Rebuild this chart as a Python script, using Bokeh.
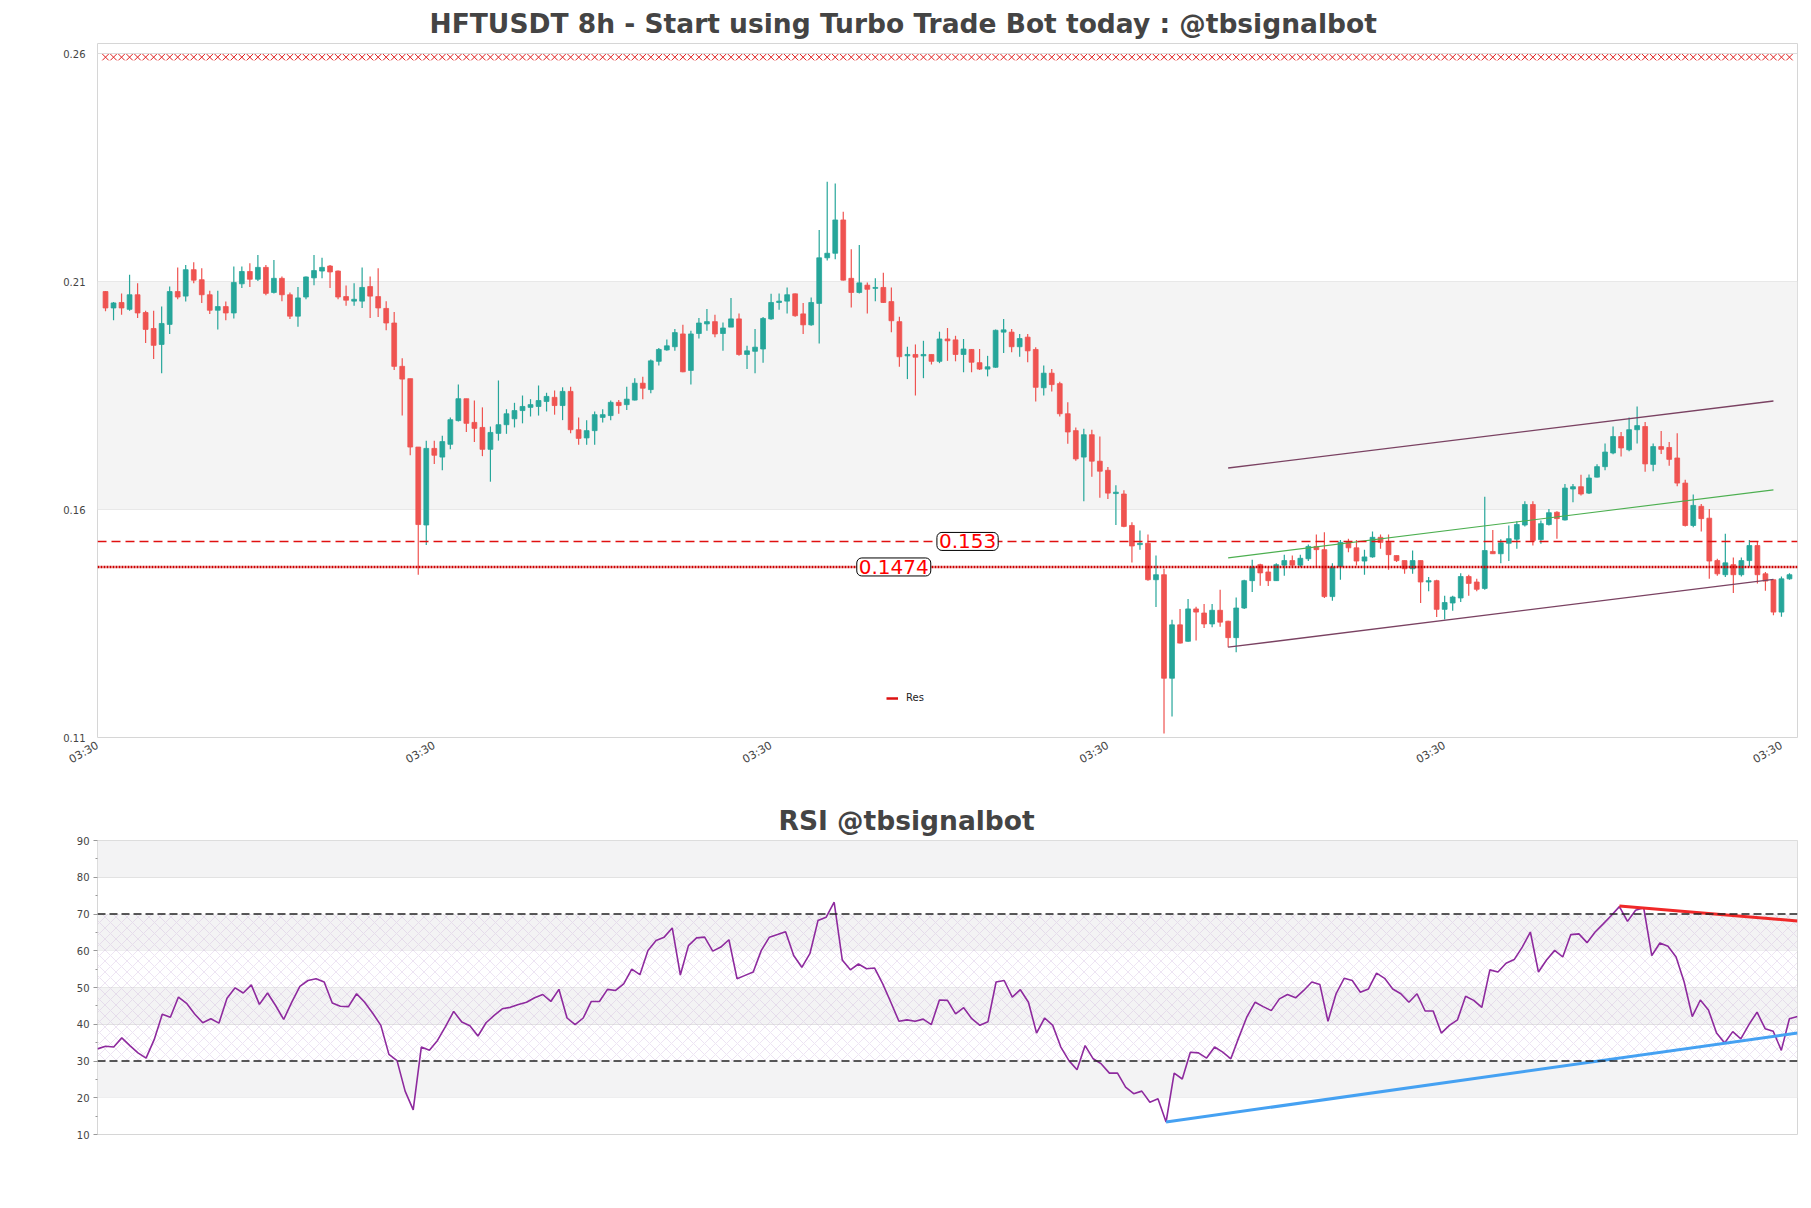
import math
from bokeh.plotting import figure
from bokeh.layouts import column
from bokeh.models import (Range1d, FixedTicker, BoxAnnotation, Span, Label, Legend,
                          LegendItem, ColumnDataSource)
from bokeh.embed import file_html
from bokeh.resources import INLINE

# ---------------- data ----------------
opens = [0.2078, 0.2042, 0.2054, 0.2039, 0.2071, 0.2032, 0.1997, 0.1962, 0.2006, 0.2078,
         0.2068, 0.2126, 0.2104, 0.2071, 0.2037, 0.2045, 0.2031, 0.2095, 0.2122, 0.2105,
         0.2131, 0.2076, 0.2107, 0.2071, 0.2024, 0.2066, 0.2108, 0.2123, 0.2134, 0.2123,
         0.2067, 0.2057, 0.2057, 0.2089, 0.2067, 0.2041, 0.2009, 0.1914, 0.1887, 0.1737,
         0.1566, 0.1734, 0.1715, 0.1743, 0.1795, 0.1843, 0.1791, 0.1780, 0.1732, 0.1767,
         0.1786, 0.1799, 0.1817, 0.1824, 0.1826, 0.1837, 0.1846, 0.1828, 0.1859, 0.1775,
         0.1757, 0.1773, 0.1802, 0.1806, 0.1835, 0.1830, 0.1840, 0.1877, 0.1863, 0.1925,
         0.1950, 0.1957, 0.1985, 0.1905, 0.1986, 0.2007, 0.2012, 0.1986, 0.2000, 0.2018,
         0.1940, 0.1947, 0.1952, 0.2018, 0.2054, 0.2057, 0.2073, 0.2029, 0.2005, 0.2052,
         0.2152, 0.2162, 0.2235, 0.2107, 0.2076, 0.2092, 0.2085, 0.2087, 0.2056, 0.2012,
         0.1937, 0.1940, 0.1937, 0.1940, 0.1925, 0.1974, 0.1972, 0.1940, 0.1951, 0.1922,
         0.1908, 0.1912, 0.1989, 0.1989, 0.1957, 0.1978, 0.1951, 0.1867, 0.1899, 0.1876,
         0.1810, 0.1773, 0.1715, 0.1764, 0.1706, 0.1686, 0.1635, 0.1634, 0.1565, 0.1523,
         0.1526, 0.1446, 0.1457, 0.1230, 0.1347, 0.1311, 0.1382, 0.1373, 0.1349, 0.1379,
         0.1355, 0.1319, 0.1384, 0.1444, 0.1479, 0.1463, 0.1444, 0.1478, 0.1488, 0.1478,
         0.1492, 0.1519, 0.1512, 0.1409, 0.1475, 0.1528, 0.1516, 0.1487, 0.1496, 0.1539,
         0.1528, 0.1499, 0.1488, 0.1470, 0.1488, 0.1441, 0.1444, 0.1381, 0.1395, 0.1406,
         0.1453, 0.1441, 0.1427, 0.1508, 0.1503, 0.1526, 0.1535, 0.1566, 0.1611, 0.1534,
         0.1567, 0.1594, 0.1577, 0.1645, 0.1650, 0.1636, 0.1671, 0.1694, 0.1724, 0.1760,
         0.1731, 0.1775, 0.1782, 0.1699, 0.1738, 0.1736, 0.1713, 0.1658, 0.1565, 0.1607,
         0.1581, 0.1488, 0.1457, 0.1479, 0.1457, 0.1488, 0.1521, 0.1459, 0.1446, 0.1375,
         0.1448]
highs = [0.2079, 0.2055, 0.2074, 0.2115, 0.2096, 0.2036, 0.2036, 0.2045, 0.2089, 0.2131,
         0.2136, 0.2142, 0.2129, 0.2080, 0.2080, 0.2056, 0.2133, 0.2133, 0.2140, 0.2158,
         0.2136, 0.2147, 0.2111, 0.2076, 0.2088, 0.2111, 0.2158, 0.2152, 0.2136, 0.2124,
         0.2091, 0.2096, 0.2131, 0.2111, 0.2129, 0.2057, 0.2033, 0.1932, 0.1887, 0.1737,
         0.1751, 0.1751, 0.1762, 0.1802, 0.1874, 0.1843, 0.1839, 0.1824, 0.1782, 0.1883,
         0.1820, 0.1834, 0.1850, 0.1842, 0.1872, 0.1856, 0.1861, 0.1868, 0.1869, 0.1802,
         0.1796, 0.1815, 0.1820, 0.1839, 0.1840, 0.1869, 0.1888, 0.1891, 0.1929, 0.1954,
         0.1973, 0.1996, 0.2005, 0.1992, 0.2020, 0.2040, 0.2027, 0.2010, 0.2064, 0.2030,
         0.1959, 0.1996, 0.2022, 0.2073, 0.2074, 0.2087, 0.2074, 0.2053, 0.2065, 0.2213,
         0.2319, 0.2315, 0.2253, 0.2171, 0.2180, 0.2098, 0.2107, 0.2119, 0.2087, 0.2023,
         0.1957, 0.1962, 0.1970, 0.1940, 0.1990, 0.1998, 0.1981, 0.1974, 0.1952, 0.1952,
         0.1937, 0.1995, 0.2018, 0.1996, 0.1985, 0.1985, 0.1956, 0.1916, 0.1908, 0.1880,
         0.1835, 0.1780, 0.1777, 0.1775, 0.1760, 0.1693, 0.1653, 0.1642, 0.1572, 0.1554,
         0.1545, 0.1499, 0.1470, 0.1358, 0.1382, 0.1404, 0.1387, 0.1393, 0.1393, 0.1424,
         0.1356, 0.1407, 0.1446, 0.1490, 0.1481, 0.1474, 0.1482, 0.1501, 0.1499, 0.1501,
         0.1523, 0.1545, 0.1550, 0.1482, 0.1533, 0.1536, 0.1533, 0.1512, 0.1552, 0.1545,
         0.1545, 0.1499, 0.1488, 0.1510, 0.1488, 0.1452, 0.1446, 0.1411, 0.1411, 0.1460,
         0.1457, 0.1448, 0.1628, 0.1555, 0.1535, 0.1565, 0.1574, 0.1618, 0.1618, 0.1576,
         0.1601, 0.1596, 0.1656, 0.1656, 0.1676, 0.1677, 0.1699, 0.1745, 0.1782, 0.1770,
         0.1802, 0.1826, 0.1792, 0.1745, 0.1772, 0.1748, 0.1767, 0.1665, 0.1633, 0.1612,
         0.1601, 0.1492, 0.1547, 0.1495, 0.1495, 0.1533, 0.1531, 0.1463, 0.1446, 0.1453,
         0.1460]
lows = [0.2035, 0.2015, 0.2027, 0.2036, 0.2020, 0.1965, 0.1930, 0.1899, 0.1985, 0.2061,
        0.2056, 0.2096, 0.2053, 0.2029, 0.1995, 0.2015, 0.2019, 0.2086, 0.2088, 0.2101,
        0.2070, 0.2074, 0.2057, 0.2018, 0.2001, 0.2061, 0.2092, 0.2107, 0.2086, 0.2061,
        0.2047, 0.2047, 0.2042, 0.2020, 0.2022, 0.1993, 0.1906, 0.1806, 0.1719, 0.1457,
        0.1522, 0.1700, 0.1686, 0.1732, 0.1793, 0.1770, 0.1748, 0.1717, 0.1661, 0.1751,
        0.1766, 0.1780, 0.1789, 0.1804, 0.1806, 0.1815, 0.1808, 0.1796, 0.1767, 0.1742,
        0.1742, 0.1742, 0.1791, 0.1796, 0.1810, 0.1818, 0.1839, 0.1842, 0.1855, 0.1916,
        0.1948, 0.1948, 0.1901, 0.1874, 0.1975, 0.1992, 0.1978, 0.1948, 0.2000, 0.1937,
        0.1908, 0.1899, 0.1922, 0.2016, 0.2038, 0.2030, 0.2023, 0.1985, 0.2003, 0.1964,
        0.2146, 0.2149, 0.2102, 0.2043, 0.2074, 0.2030, 0.2057, 0.2053, 0.1989, 0.1913,
        0.1886, 0.1850, 0.1888, 0.1918, 0.1921, 0.1926, 0.1925, 0.1901, 0.1901, 0.1906,
        0.1892, 0.1911, 0.1943, 0.1945, 0.1935, 0.1923, 0.1837, 0.1850, 0.1859, 0.1804,
        0.1744, 0.1707, 0.1618, 0.1672, 0.1626, 0.1623, 0.1566, 0.1561, 0.1484, 0.1512,
        0.1444, 0.1386, 0.1109, 0.1146, 0.1306, 0.1310, 0.1313, 0.1340, 0.1342, 0.1343,
        0.1298, 0.1287, 0.1382, 0.1419, 0.1433, 0.1432, 0.1443, 0.1455, 0.1473, 0.1474,
        0.1487, 0.1474, 0.1406, 0.1400, 0.1446, 0.1506, 0.1477, 0.1457, 0.1494, 0.1514,
        0.1468, 0.1485, 0.1459, 0.1459, 0.1395, 0.1421, 0.1364, 0.1359, 0.1378, 0.1397,
        0.1411, 0.1421, 0.1424, 0.1503, 0.1482, 0.1487, 0.1514, 0.1563, 0.1521, 0.1525,
        0.1565, 0.1536, 0.1576, 0.1616, 0.1631, 0.1634, 0.1670, 0.1686, 0.1721, 0.1716,
        0.1728, 0.1745, 0.1683, 0.1684, 0.1722, 0.1696, 0.1651, 0.1563, 0.1561, 0.1552,
        0.1448, 0.1455, 0.1452, 0.1417, 0.1453, 0.1475, 0.1438, 0.1422, 0.1368, 0.1365,
        0.1446]
closes = [0.2042, 0.2053, 0.2042, 0.2071, 0.2031, 0.1995, 0.1960, 0.2008, 0.2078, 0.2066,
          0.2126, 0.2103, 0.2071, 0.2037, 0.2045, 0.2031, 0.2098, 0.2122, 0.2105, 0.2131,
          0.2074, 0.2107, 0.2071, 0.2024, 0.2064, 0.2110, 0.2124, 0.2131, 0.2121, 0.2066,
          0.2059, 0.2061, 0.2087, 0.2068, 0.2042, 0.2009, 0.1914, 0.1886, 0.1737, 0.1567,
          0.1734, 0.1719, 0.1749, 0.1797, 0.1843, 0.1789, 0.1778, 0.1732, 0.1769, 0.1786,
          0.1810, 0.1817, 0.1826, 0.1830, 0.1839, 0.1848, 0.1828, 0.1859, 0.1775, 0.1756,
          0.1773, 0.1808, 0.1808, 0.1835, 0.1828, 0.1842, 0.1877, 0.1866, 0.1926, 0.1951,
          0.1959, 0.1988, 0.1902, 0.1985, 0.2009, 0.2012, 0.1985, 0.1998, 0.2018, 0.1940,
          0.1948, 0.1956, 0.2019, 0.2054, 0.2057, 0.2071, 0.2025, 0.2005, 0.2054, 0.2152,
          0.2162, 0.2235, 0.2103, 0.2076, 0.2097, 0.2083, 0.2087, 0.2054, 0.2014, 0.1935,
          0.1940, 0.1934, 0.1940, 0.1925, 0.1974, 0.1970, 0.1940, 0.1952, 0.1923, 0.1908,
          0.1913, 0.1993, 0.1994, 0.1957, 0.1975, 0.1948, 0.1868, 0.1899, 0.1874, 0.1810,
          0.1770, 0.1711, 0.1764, 0.1706, 0.1684, 0.1636, 0.1638, 0.1563, 0.1520, 0.1526,
          0.1446, 0.1457, 0.1230, 0.1347, 0.1307, 0.1382, 0.1375, 0.1349, 0.1379, 0.1353,
          0.1319, 0.1384, 0.1444, 0.1474, 0.1461, 0.1444, 0.1479, 0.1488, 0.1478, 0.1493,
          0.1519, 0.1512, 0.1409, 0.1474, 0.1528, 0.1516, 0.1487, 0.1496, 0.1539, 0.1528,
          0.1501, 0.1488, 0.1470, 0.1488, 0.1441, 0.1444, 0.1381, 0.1396, 0.1408, 0.1453,
          0.1438, 0.1425, 0.1510, 0.1503, 0.1527, 0.1536, 0.1567, 0.1611, 0.1532, 0.1569,
          0.1593, 0.1580, 0.1647, 0.1650, 0.1634, 0.1669, 0.1694, 0.1726, 0.1760, 0.1735,
          0.1775, 0.1784, 0.1700, 0.1738, 0.1732, 0.1710, 0.1658, 0.1565, 0.1609, 0.1580,
          0.1487, 0.1459, 0.1483, 0.1457, 0.1488, 0.1521, 0.1457, 0.1443, 0.1375, 0.1448,
          0.1457]
rsi = [33.3, 34.0, 33.8, 36.3, 34.2, 32.2, 30.8, 35.8, 42.7, 41.9,
       47.4, 45.7, 42.8, 40.4, 41.5, 40.3, 47.1, 49.9, 48.5, 50.7,
       45.4, 48.5, 45.1, 41.3, 46.0, 50.3, 51.9, 52.4, 51.5, 45.8,
       44.9, 44.8, 48.3, 46.0, 43.0, 39.7, 31.8, 30.1, 21.8, 16.7,
       33.8, 32.9, 35.6, 39.4, 43.5, 40.6, 39.6, 36.8, 40.4, 42.4,
       44.2, 44.6, 45.4, 46.0, 47.2, 48.1, 46.2, 49.5, 41.7, 39.9,
       41.7, 46.2, 46.2, 49.5, 49.2, 51.0, 55.0, 53.5, 60.1, 62.8,
       63.7, 66.2, 53.4, 61.4, 63.5, 63.7, 59.9, 61.0, 63.0, 52.4,
       53.3, 54.2, 60.1, 63.7, 64.4, 65.2, 58.7, 55.5, 59.2, 68.2,
       69.1, 73.2, 57.5, 54.8, 56.4, 55.1, 55.3, 51.0, 46.0, 40.8,
       41.2, 40.8, 41.4, 39.9, 46.6, 46.5, 42.8, 44.5, 41.5, 39.7,
       40.7, 51.5, 51.9, 47.4, 49.4, 46.0, 37.6, 41.7, 39.7, 33.8,
       30.1, 27.6, 34.2, 30.6, 29.2, 26.7, 26.7, 22.9, 21.1, 21.8,
       18.8, 19.7, 13.4, 26.7, 25.1, 32.4, 32.2, 30.8, 33.8, 32.4,
       30.6, 36.5, 42.1, 46.0, 44.8, 43.7, 46.9, 48.1, 47.2, 49.2,
       51.5, 50.8, 40.8, 48.3, 52.5, 51.9, 48.7, 49.6, 53.9, 52.5,
       49.6, 48.3, 46.0, 48.3, 43.6, 43.6, 37.6, 39.7, 41.2, 47.6,
       46.5, 44.6, 54.8, 54.2, 56.6, 57.6, 61.0, 65.1, 54.2, 57.5,
       60.1, 58.3, 64.4, 64.6, 62.2, 65.1, 67.3, 69.6, 72.0, 68.0,
       71.0, 71.7, 58.7, 62.1, 61.2, 58.3, 51.5, 42.1, 46.6, 43.9,
       37.6, 34.9, 38.0, 36.0, 39.9, 43.3, 38.8, 38.1, 32.9, 41.5, 42.1]

candle_idx = list(range(1, len(closes) + 1))
x_tick_pos = [0, 42, 84, 126, 168, 210]
x_tick_labels = ["03:30"] * 6
price_ticks = [0.11, 0.16, 0.21, 0.26]
price_tick_labels = ["0.11", "0.16", "0.21", "0.26"]
res_dashed = 0.153
res_dotted = 0.1474
signal_level = 0.2592
channel_x = [141, 209]
channel_upper = [0.1691, 0.1838]
channel_mid = [0.1494, 0.1643]
channel_lower = [0.1298, 0.1447]
rsi_ticks = [10, 20, 30, 40, 50, 60, 70, 80, 90]
rsi_minor = [15, 25, 35, 45, 55, 65, 75, 85]
rsi_bear_x = [189, 211]
rsi_bear_y = [72.2, 68.1]
rsi_bull_x = [133, 211]
rsi_bull_y = [13.4, 37.6]
main_title = "HFTUSDT 8h - Start using Turbo Trade Bot today : @tbsignalbot"
rsi_title = "RSI @tbsignalbot"

UP = "#26a69a"
DOWN = "#ef5350"
FONT = "DejaVu Sans"
TXT = "#444444"

# frame geometry (pixels)
FRAME_LEFT = 97
FIG_W = 1803
FRAME_W = 1700


def style_title(fig, text, left_offset):
    fig.title.text = text
    fig.title.align = "left"
    fig.title.offset = left_offset
    fig.title.text_font = FONT
    fig.title.text_font_size = "26.5px"
    fig.title.text_font_style = "bold"
    fig.title.text_color = TXT
    fig.title.standoff = 10


# ---------------- price figure ----------------
p = figure(width=FIG_W, height=790, output_backend="svg", toolbar_location=None,
           x_range=Range1d(0, 212), y_range=Range1d(0.11, 0.2622),
           min_border_left=FRAME_LEFT, min_border_right=FIG_W - FRAME_LEFT - FRAME_W,
           min_border_top=43, min_border_bottom=53)
style_title(p, main_title, 332)
p.outline_line_color = "#d6d6d6"
p.background_fill_color = "white"
p.border_fill_color = "white"

p.add_layout(BoxAnnotation(bottom=0.16, top=0.21, fill_color="#f4f4f4", fill_alpha=1.0,
                           line_alpha=0, level="underlay"))

p.xgrid.visible = False
p.ygrid.ticker = FixedTicker(ticks=price_ticks)
p.ygrid.grid_line_color = "#dddddd"

p.yaxis.ticker = FixedTicker(ticks=price_ticks)
p.yaxis.major_label_overrides = dict(zip(price_ticks, price_tick_labels))
p.yaxis.axis_line_color = None
p.yaxis.major_tick_line_color = None
p.yaxis.minor_tick_line_color = None
p.yaxis.major_label_text_font = FONT
p.yaxis.major_label_text_font_size = "10px"
p.yaxis.major_label_text_color = TXT
p.yaxis.major_label_standoff = 6

p.xaxis.ticker = FixedTicker(ticks=x_tick_pos)
p.xaxis.major_label_overrides = dict(zip(x_tick_pos, x_tick_labels))
p.xaxis.major_label_orientation = math.pi / 6
p.xaxis.axis_line_color = None
p.xaxis.major_tick_line_color = None
p.xaxis.minor_tick_line_color = None
p.xaxis.major_label_text_font = FONT
p.xaxis.major_label_text_font_size = "11px"
p.xaxis.major_label_text_color = TXT
p.xaxis.major_label_standoff = 1

colors = [UP if c >= o else DOWN for o, c in zip(opens, closes)]
src = ColumnDataSource(dict(x=candle_idx, o=opens, h=highs, l=lows, c=closes,
                            top=[max(o, c) for o, c in zip(opens, closes)],
                            bot=[min(o, c) for o, c in zip(opens, closes)],
                            color=colors))
p.segment(x0="x", y0="h", x1="x", y1="l", source=src, line_color="color", line_width=1.2)
p.vbar(x="x", top="top", bottom="bot", width=0.6, source=src, fill_color="color",
       line_color="color", line_width=0.8)

# resistance lines
p.add_layout(Span(location=res_dashed, dimension="width", line_color="#e01010",
                  line_dash="9 5", line_width=1.5))
dot_src = ColumnDataSource(dict(x=[0, 212], y=[res_dotted, res_dotted]))
p.line(x="x", y="y", source=dot_src, line_color="#cc0000", line_dash="2 1", line_width=2.5)

# channel
p.line(channel_x, channel_upper, line_color="#7a4262", line_width=1.3)
p.line(channel_x, channel_mid, line_color="#4caf50", line_width=1.1)
p.line(channel_x, channel_lower, line_color="#7a4262", line_width=1.3)

# signal markers row
p.scatter(candle_idx, [signal_level] * len(candle_idx), marker="x", size=9,
          line_color="#e02020", line_width=1)

# value labels
for xv, yv, txt in [(108.5, res_dashed, "0.153"), (99.3, res_dotted, "0.1474")]:
    p.add_layout(Label(x=xv, y=yv, text=txt, text_align="center", text_baseline="middle",
                       text_color="#ff0000", text_font=FONT, text_font_size="20px",
                       background_fill_color="white", border_line_color="black",
                       border_line_width=1, padding=2, border_radius=5))

# legend
leg_src = ColumnDataSource(dict(x=[float("nan")], y=[float("nan")]))
r_leg = p.line(x="x", y="y", source=leg_src, line_color="#dd1111", line_width=2.5)
legend = Legend(items=[LegendItem(label="Res", renderers=[r_leg], index=0)], location=(789, 34),
                label_text_font=FONT, label_text_font_size="10px", label_text_color="#222222",
                glyph_width=12, glyph_height=10, label_height=10, padding=0, margin=0,
                border_line_alpha=0, background_fill_alpha=0, label_standoff=8)
p.add_layout(legend)

# ---------------- RSI figure ----------------
r = figure(width=FIG_W, height=410, output_backend="svg", toolbar_location=None,
           x_range=Range1d(1, 211), y_range=Range1d(10, 90),
           min_border_left=FRAME_LEFT, min_border_right=FIG_W - FRAME_LEFT - FRAME_W,
           min_border_top=50, min_border_bottom=66)
style_title(r, rsi_title, 681)
r.outline_line_color = "#d6d6d6"

for b, t in [(80, 90), (60, 70), (40, 50), (20, 30)]:
    r.add_layout(BoxAnnotation(bottom=b, top=t, fill_color="#f3f3f4", fill_alpha=1.0,
                               line_alpha=0, level="underlay"))
r.add_layout(BoxAnnotation(bottom=30, top=70, fill_alpha=0, line_alpha=0,
                           hatch_pattern="diagonal_cross", hatch_color="#c2a6d6",
                           hatch_alpha=0.5, hatch_scale=11, hatch_weight=0.6,
                           level="underlay"))

r.xgrid.visible = False
r.ygrid.ticker = FixedTicker(ticks=rsi_ticks)
r.ygrid.grid_line_color = "#dddddd"
r.xaxis.visible = False
r.yaxis.ticker = FixedTicker(ticks=rsi_ticks, minor_ticks=rsi_minor)
r.yaxis.axis_line_color = None
r.yaxis.major_tick_line_color = "#999999"
r.yaxis.major_tick_out = 4
r.yaxis.major_tick_in = 0
r.yaxis.minor_tick_line_color = "#999999"
r.yaxis.minor_tick_out = 2
r.yaxis.minor_tick_in = 0
r.yaxis.major_label_text_font = FONT
r.yaxis.major_label_text_font_size = "10px"
r.yaxis.major_label_text_color = TXT
r.yaxis.major_label_standoff = 4

for lv in (30, 70):
    r.add_layout(Span(location=lv, dimension="width", line_color="#222222",
                      line_dash="8 4", line_width=1.3))

r.line(candle_idx, rsi, line_color="#8e2a9e", line_width=1.6)
r.line(rsi_bear_x, rsi_bear_y, line_color="#f02828", line_width=3)
r.line(rsi_bull_x, rsi_bull_y, line_color="#45a1f2", line_width=3)

layout = column(p, r, spacing=0)
open("out.html", "w").write(file_html(layout, INLINE))
